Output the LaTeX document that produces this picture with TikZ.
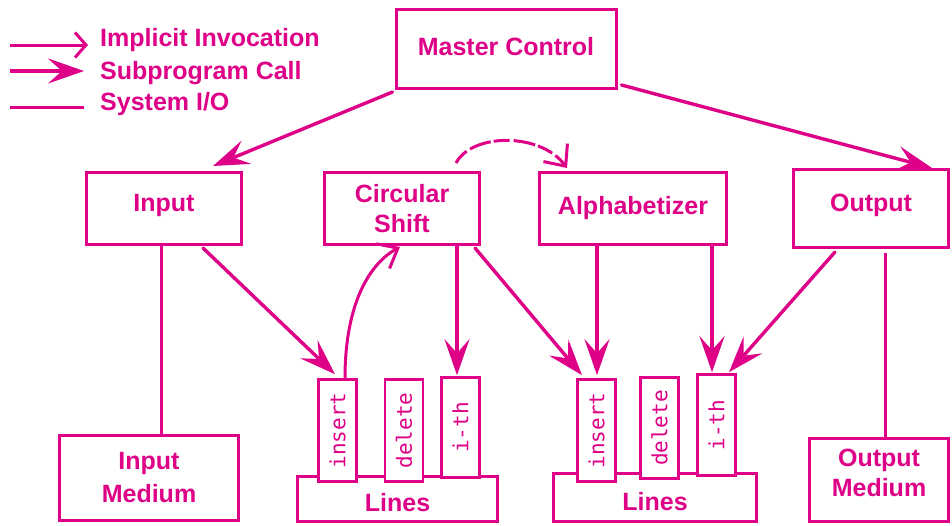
\documentclass[tikz,border=0pt]{standalone}
\usepackage{fontspec}
\usepackage{graphicx}
\setmainfont{Liberation Sans}
\newfontfamily\monof{DejaVu Sans Mono}
\usetikzlibrary{arrows.meta,calc}
\definecolor{mag}{RGB}{222,0,135}
\begin{document}
\begin{tikzpicture}[x=1pt,y=-1pt,
  every node/.style={text=mag},
  box/.style={draw=mag,line width=3pt,fill=white,inner sep=0pt,align=center,
    font=\fontsize{25}{30}\selectfont\bfseries},
  opbox/.style={draw=mag,line width=2.6pt,fill=white,inner sep=0pt,
    minimum width=38pt,font=\fontsize{21}{21}\selectfont\monof},
  legtext/.style={anchor=base west,inner sep=0pt,font=\fontsize{25}{30}\selectfont\bfseries},
  call/.style={draw=mag,line width=3.4pt,line cap=round,-{Stealth[length=36pt,width=25pt,inset=14pt]}},
  implicit/.style={draw=mag,line width=3pt,-{Straight Barb[length=11pt,width=25pt]}},
  sysio/.style={draw=mag,line width=3pt},
]
\useasboundingbox (0,0) rectangle (952,525);

% legend
\coordinate (l1a) at (10,45);
\coordinate (l1b) at (88,45);
\coordinate (l2a) at (10,71);
\coordinate (l2b) at (84,71);
\coordinate (l3a) at (10,107);
\coordinate (l3b) at (84,107);
\draw[implicit] (l1a) -- (l1b);
\draw[call,line cap=butt] (l2a) -- (l2b);
\draw[sysio] (l3a) -- (l3b);
\node[legtext] (t1) at (100,46) {Implicit Invocation};
\node[legtext] (t2) at (100,79) {Subprogram Call};
\node[legtext] (t3) at (100,110) {System I/O};

% main boxes
\node[box,minimum width=220pt,minimum height=79pt] (master) at (506,49) {Master Control\\[-24pt]};
\node[box,minimum width=155pt,minimum height=72pt] (input) at (164,208.5) {Input\\[-18pt]};
\node[box,minimum width=155pt,minimum height=72pt] (cshift) at (402,208.5) {Circular\\Shift};
\node[box,minimum width=187pt,minimum height=72pt] (alpha) at (633,208.5) {Alphabetizer};
\node[box,minimum width=155pt,minimum height=78pt] (output) at (871,208.5) {Output\\[-18pt]};
\node[box,minimum width=179pt,minimum height=85pt] (inmed) at (149,478) {Input\\[3pt]Medium};
\node[box,minimum width=139pt,minimum height=83pt] (outmed) at (879,480) {Output\\Medium\\[-15pt]};

% Lines modules
\node[box,minimum width=200pt,minimum height=45pt,text height=26pt] (linesL) at (397.5,499) {Lines};
\node[box,minimum width=203pt,minimum height=48pt,text height=26pt] (linesR) at (655,497.5) {Lines};
\node[opbox,minimum height=102pt] (insL) at (337.5,430.5) {\rotatebox{90}{insert}};
\node[opbox,minimum height=102pt] (delL) at (404,430.5) {\rotatebox{90}{delete}};
\node[opbox,minimum height=100pt] (ithL) at (460.5,427.5) {\rotatebox{90}{i-th}};
\node[opbox,minimum height=102pt] (insR) at (596.5,430.5) {\rotatebox{90}{insert}};
\node[opbox,minimum height=101pt] (delR) at (659.5,428) {\rotatebox{90}{delete}};
\node[opbox,minimum height=101pt] (ithR) at (716.5,425) {\rotatebox{90}{i-th}};

% subprogram calls
\draw[call] ($(master.south west)+(-2,2)$) -- ($(input.north east)+(-30,-5)$);
\draw[call] ($(master.south east)+(4,-5)$) -- ($(output.north east)+(-18,0)$);
\draw[call] ($(input.south)+(39,2)$) -- ($(insL.north)+(-2.5,-4)$);
\draw[call] ($(cshift.south east)+(-24,0)$) -- ($(ithL.north)+(-3.5,-1)$);
\draw[call] ($(cshift.south east)+(-6,2)$) -- ($(insR.north)+(-14.5,-3)$);
\draw[call] ($(alpha.south west)+(59,0)$) -- ($(insR.north)+(0.5,-3)$);
\draw[call] ($(alpha.south east)+(-16,0)$) -- ($(ithR.north)+(-4.5,-1)$);
\draw[call] ($(output.south west)+(43,3)$) -- ($(ithR.north)+(12.5,-1)$);

% system I/O
\coordinate (ia) at ($(input.south)+(-3,0)$);
\draw[sysio] (ia) -- (ia |- inmed.north);
\coordinate (oa) at ($(output.south)+(14,4)$);
\draw[sysio] (oa) -- (oa |- outmed.north);

% implicit invocations
\draw[draw=mag,line width=3pt,-{Straight Barb[length=17pt,width=28pt]}]
  ($(insL.north)+(7.5,0)$) .. controls (345,300) and (372,262) .. ($(cshift.south)+(-2,1)$);
\draw[draw=mag,line width=3pt,dash pattern=on 16pt off 4pt on 22pt off 3pt,-{Straight Barb[length=17pt,width=30pt]}]
  ($(cshift.north)+(54,-8)$) .. controls (472,133) and (540,132) .. ($(alpha.north west)+(29,-3)$);
\end{tikzpicture}
\end{document}
